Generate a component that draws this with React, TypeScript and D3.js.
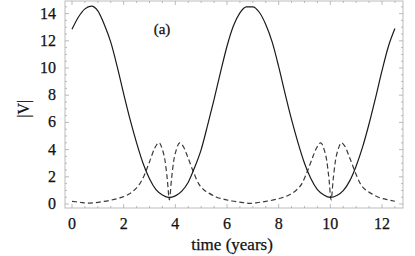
import * as d3 from "d3";

// time samples for the solid curve
const solidTime = [
  0, 0.25, 0.5, 0.75, 1, 1.25, 1.5, 1.75, 2, 2.25, 2.5, 2.75, 3, 3.25, 3.5, 3.75,
  4, 4.25, 4.5, 4.75, 5, 5.25, 5.5, 5.75, 6, 6.25, 6.5, 6.75, 7, 7.25, 7.5, 7.75,
  8, 8.25, 8.5, 8.75, 9, 9.25, 9.5, 9.75, 10, 10.25, 10.5, 10.75, 11, 11.25, 11.5,
  11.75, 12, 12.25, 12.5,
];
const solidV = [
  12.85, 13.75, 14.35, 14.55, 14.2, 13.2, 11.9, 10.1, 8.1, 6.2, 4.5, 3.0, 1.85, 1.05, 0.66, 0.48,
  0.6, 0.95, 1.6, 2.7, 4.0, 5.8, 7.7, 9.7, 11.6, 13.1, 14.05, 14.5, 14.5, 14.1, 13.2, 11.9,
  10.1, 8.1, 6.2, 4.5, 3.0, 1.85, 1.05, 0.66, 0.48, 0.62, 0.98, 1.7, 2.8, 4.2, 5.9,
  7.8, 9.8, 11.6, 12.9,
];

// time samples for the dashed curve
const dashTime = [
  0, 0.3, 0.6, 0.9, 1.2, 1.5, 1.8, 2.1, 2.4, 2.6, 2.8, 3.0, 3.2, 3.37, 3.5, 3.6, 3.69, 3.77,
  3.85, 3.94, 4.04, 4.17, 4.3, 4.5, 4.7, 4.9, 5.1, 5.3, 5.6, 5.9, 6.2, 6.5, 6.9, 7.2, 7.5,
  7.8, 8.1, 8.4, 8.7, 8.9, 9.1, 9.3, 9.46, 9.63, 9.76, 9.86, 9.95, 10.03, 10.11, 10.2, 10.3,
  10.43, 10.56, 10.76, 10.96, 11.16, 11.36, 11.56, 11.86, 12.16, 12.5,
];
const dashV = [
  0.2, 0.13, 0.06, 0.1, 0.18, 0.28, 0.42, 0.62, 1.0, 1.42, 2.12, 3.1, 4.1, 4.5, 4.0, 3.2, 1.8, 0.3,
  1.8, 3.2, 4.0, 4.5, 4.25, 3.35, 2.35, 1.5, 1.05, 0.8, 0.5, 0.34, 0.22, 0.14, 0.05, 0.11, 0.19,
  0.3, 0.44, 0.66, 1.05, 1.5, 2.35, 3.35, 4.1, 4.5, 4.0, 3.2, 1.8, 0.3, 1.8, 3.2, 4.0,
  4.5, 4.25, 3.35, 2.35, 1.5, 1.05, 0.8, 0.5, 0.34, 0.2,
];

const xTicks = [0, 2, 4, 6, 8, 10, 12];
const yTicks = [0, 2, 4, 6, 8, 10, 12, 14];

const App = () => {
  const width = 415;
  const height = 256;
  const left = 65;
  const right = 403;
  const top = 1;
  const bottom = 208;

  const x = d3.scaleLinear().domain([0, 12]).range([72, 382]);
  const y = d3.scaleLinear().domain([0, 14]).range([204, 13.6]);

  const line = d3
    .line<[number, number]>()
    .x((d) => x(d[0]))
    .y((d) => y(d[1]))
    .curve(d3.curveMonotoneX);

  const solid = solidTime.map((t, i) => [t, solidV[i]] as [number, number]);
  const dashed = dashTime.map((t, i) => [t, dashV[i]] as [number, number]);

  // minor ticks every 0.5
  const xMinor = d3.range(-0.5, 13, 0.5).filter((v) => x(v) > left && x(v) < right);
  const yMinor = d3.range(0, 15.5, 0.5).filter((v) => y(v) > top && y(v) < bottom);

  const textStyle = {
    fontFamily: "Liberation Serif, Times New Roman, DejaVu Serif, serif",
    fontSize: 16,
    fill: "#111",
    stroke: "#111",
    strokeWidth: 0.25,
  };
  const tickColor = "#aaa";

  return (
    <svg
      width={width}
      height={height}
      style={{ position: "absolute", left: 0, top: 0, background: "#fff" }}
    >
      <rect x={left} y={top} width={right - left} height={bottom - top} fill="none" stroke="#bbb" strokeWidth={1} />

      {xMinor.map((v) => {
        const major = Math.abs(v % 2) < 1e-6;
        const len = major ? 4 : 2;
        return (
          <g key={"xm" + v} stroke={tickColor} strokeWidth={0.8}>
            <line x1={x(v)} x2={x(v)} y1={bottom} y2={bottom - len} />
            <line x1={x(v)} x2={x(v)} y1={top} y2={top + len} />
          </g>
        );
      })}
      {yMinor.map((v) => {
        const major = Math.abs(v % 2) < 1e-6;
        const len = major ? 4 : 2;
        return (
          <g key={"ym" + v} stroke={tickColor} strokeWidth={0.8}>
            <line x1={left} x2={left + len} y1={y(v)} y2={y(v)} />
            <line x1={right} x2={right - len} y1={y(v)} y2={y(v)} />
          </g>
        );
      })}

      <path d={line(dashed) ?? ""} fill="none" stroke="#3a3a3a" strokeWidth={1.2} strokeDasharray="5,3" />
      <path d={line(solid) ?? ""} fill="none" stroke="#1a1a1a" strokeWidth={1.2} />

      {xTicks.map((v) => (
        <text key={"xt" + v} x={x(v)} y={229} textAnchor="middle" style={textStyle}>
          {v}
        </text>
      ))}
      {yTicks.map((v) => (
        <text key={"yt" + v} x={56} y={y(v) + 5} textAnchor="end" style={textStyle}>
          {v}
        </text>
      ))}

      <text x={232} y={250} textAnchor="middle" style={{ ...textStyle, fontSize: 17 }}>
        time (years)
      </text>
      <text transform={`translate(29,${y(7)}) rotate(-90)`} textAnchor="middle" style={textStyle}>
        |V|
      </text>
      <text x={162} y={34} textAnchor="middle" style={{ ...textStyle, fontSize: 15 }}>
        (a)
      </text>
    </svg>
  );
};

export default App;
